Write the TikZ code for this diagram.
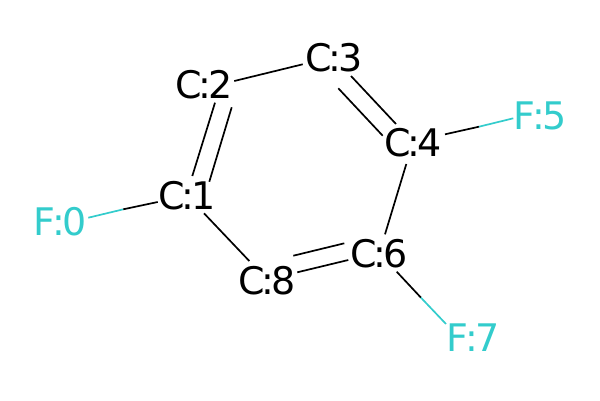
\documentclass[tikz,border=0pt]{standalone}
\usepackage{fontspec}
\usepackage{xcolor}
\usepackage{tikz}
\newfontfamily\atomfont{DejaVu Sans}
\newcommand{\atomlbl}[2]{#1\kern-.08em:\kern-.08em #2}
\definecolor{atomc}{RGB}{0,0,0}
\definecolor{atomf}{RGB}{51,204,204}
\tikzset{
  atom/.style={
    inner sep=0pt, text=atomc, align=center,
    font=\atomfont\fontsize{38}{38}\selectfont
  },
  fluor/.style={atom, text=atomf},
  bond/.style={draw=atomc, line width=1.7pt},
  fbond/.style={draw=atomf, line width=1.7pt}
}

\begin{document}
\begin{tikzpicture}[x=1pt, y=-1pt]
  \useasboundingbox (0,0) rectangle (600,400);

  \node[fluor] (f0) at (60,222) {\atomlbl{F}{0}};
  \node[atom] (c1) at (187,196) {\atomlbl{C}{1}};
  \node[atom] (c2) at (204,85) {\atomlbl{C}{2}};
  \node[atom] (c3) at (334,58) {\atomlbl{C}{3}};
  \node[atom] (c4) at (413,143) {\atomlbl{C}{4}};
  \node[fluor] (f5) at (540,116) {\atomlbl{F}{5}};
  \node[atom] (c6) at (379,254) {\atomlbl{C}{6}};
  \node[fluor] (f7) at (473,338) {\atomlbl{F}{7}};
  \node[atom] (c8) at (267,281) {\atomlbl{C}{8}};

  \coordinate (m0) at (123.3,209.3);
  \coordinate (m5) at (479,126.7);
  \coordinate (m7) at (421,297.7);

  % F bonds, half in each colour
  \draw[fbond] ([shift={(28.3,-4.3)}]f0.center) -- (m0);
  \draw[bond] (m0) -- ([shift={(-29.3,6)}]c1.center);
  \draw[bond] ([shift={(32,-8.7)}]c4.center) -- (m5);
  \draw[fbond] (m5) -- ([shift={(-26.7,2.3)}]f5.center);
  \draw[bond] ([shift={(17.7,17.7)}]c6.center) -- (m7);
  \draw[fbond] (m7) -- ([shift={(-27,-14)}]f7.center);

  % ring
  \draw[bond] ([shift={(5.3,-20)}]c1.center) -- ([shift={(11,17.7)}]c2.center);
  \draw[bond] ([shift={(22.3,-14.3)}]c1.center) -- ([shift={(27.7,22.3)}]c2.center);
  \draw[bond] ([shift={(30.3,-4)}]c2.center) -- ([shift={(-31.3,6.3)}]c3.center);
  \draw[bond] ([shift={(17,18)}]c3.center) -- ([shift={(-17,-19)}]c4.center);
  \draw[bond] ([shift={(4.3,30.3)}]c3.center) -- ([shift={(-30.3,-7.3)}]c4.center);
  \draw[bond] ([shift={(-6.7,21)}]c4.center) -- ([shift={(6,-19.7)}]c6.center);
  \draw[bond] ([shift={(-34.7,-10.7)}]c6.center) -- ([shift={(26.3,-25.3)}]c8.center);
  \draw[bond] ([shift={(-30.7,6)}]c6.center) -- ([shift={(30.3,-8.7)}]c8.center);
  \draw[bond] ([shift={(17,17.3)}]c1.center) -- ([shift={(-17.7,-20)}]c8.center);
\end{tikzpicture}
\end{document}
